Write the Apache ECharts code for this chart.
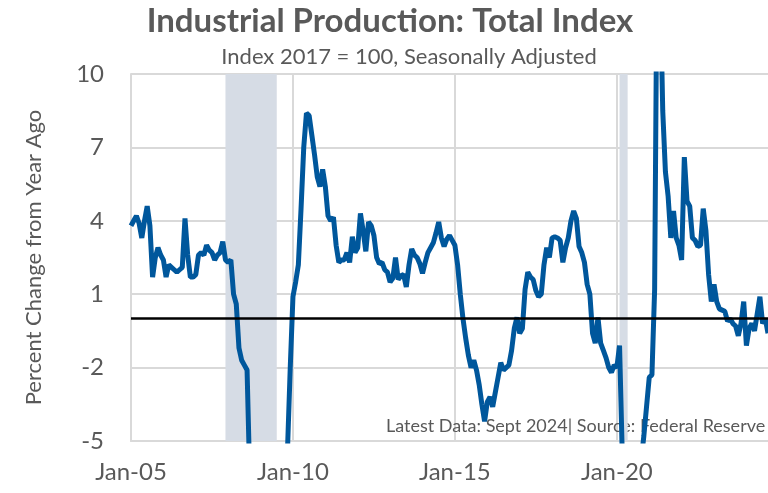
<!DOCTYPE html>
<html>
<head>
<meta charset="utf-8">
<script src="https://cdn.jsdelivr.net/npm/echarts@6/dist/echarts.min.js"></script>
<style>
  html, body { margin: 0; padding: 0; background: #fff; }
  #chart { width: 768px; height: 493px; }
</style>
</head>
<body>
<div id="chart"></div>
<script>
// 月度数据：Jan-2005 ~ Sep-2024，同比变化 %
const startYear = 2005;
const monthNames = ["Jan", "Feb", "Mar", "Apr", "May", "Jun", "Jul", "Aug", "Sep", "Oct", "Nov", "Dec"];

const yoyChange = [
  // 2005
  3.8, 4.0, 4.2, 3.9, 3.3, 4.0, 4.6, 3.8, 1.7, 2.5, 2.9, 2.6,
  // 2006
  2.4, 1.7, 2.2, 2.1, 2.0, 1.9, 2.0, 2.1, 4.1, 2.6, 1.7, 1.7,
  // 2007
  1.8, 2.6, 2.7, 2.6, 3.0, 2.8, 2.7, 2.4, 2.6, 2.7, 3.15, 2.4,
  // 2008
  2.3, 2.4, 1.0, 0.6, -1.2, -1.7, -1.9, -2.1, -6.5, -5.8, -7.5, -9.5,
  // 2009
  -11.5, -12.5, -13.5, -14.5, -15.0, -15.5, -13.5, -12.5, -10.5, -9.0, -5.3, -2.0,
  // 2010
  0.9, 1.5, 2.2, 4.5, 7.0, 8.4, 8.3, 7.5, 6.7, 5.8, 5.4, 6.1,
  // 2011
  5.4, 4.2, 4.0, 4.15, 3.0, 2.3, 2.4, 2.4, 2.7, 2.3, 3.35, 2.7,
  // 2012
  2.9, 4.3, 3.6, 2.75, 3.95, 3.8, 3.4, 2.5, 2.25, 2.3, 2.0, 1.9,
  // 2013
  1.5, 1.65, 2.5, 1.6, 1.75, 1.8, 1.3, 2.2, 2.85, 2.6, 2.5, 2.25,
  // 2014
  1.85, 2.3, 2.7, 2.9, 3.1, 3.5, 3.95, 3.3, 2.95, 3.25, 3.4, 3.2,
  // 2015
  3.0, 2.2, 1.0, 0.0, -0.8, -1.5, -2.0, -1.7, -2.1, -2.7, -3.5, -4.2,
  // 2016
  -3.4, -3.2, -3.6, -3.0, -2.4, -1.8, -2.1, -2.0, -1.9, -1.3, -0.4, 0.05,
  // 2017
  -0.6, -0.4, 1.2, 1.9, 1.7, 1.6, 1.15, 0.9, 1.0, 2.2, 2.9, 2.5,
  // 2018
  3.3, 3.35, 3.3, 3.2, 2.3, 2.9, 3.3, 4.0, 4.4, 4.1, 2.95, 2.7,
  // 2019
  2.3, 1.4, 1.0, -0.6, -1.0, 0.05, -1.0, -1.3, -1.6, -2.0, -2.2, -1.9,
  // 2020
  -2.0, -1.1, -5.5, -16.5, -15.3, -10.8, -7.5, -7.0, -6.8, -5.8, -4.8, -3.6,
  // 2021
  -2.4, -2.3, 1.2, 16.5, 14.0, 8.5, 6.0, 5.0, 3.3, 4.4, 3.3, 3.0,
  // 2022
  2.4, 6.6, 4.8, 4.6, 3.3, 3.2, 2.95, 3.0, 4.5, 3.6, 1.8, 0.7,
  // 2023
  1.4, 0.7, 0.4, 0.35, 0.3, -0.1, 0.0, -0.2, -0.3, -0.7, -0.2, 0.7,
  // 2024
  -1.1, -0.4, -0.2, -0.5, 0.2, 0.9, -0.2, 0.0, -0.6
];

// 衰退期阴影（起止月份）
const recessions = [
  ["Dec-07", "Jul-09"],
  ["Feb-20", "May-20"]
];

const yTicks = { min: -5, max: 10, interval: 3 };

// 月份标签 Jan-05 ...
const categories = yoyChange.map((v, i) => {
  const y = startYear + Math.floor(i / 12);
  return monthNames[i % 12] + "-" + String(y).slice(2);
});

const chart = echarts.init(document.getElementById("chart"));
const font = "Lato, 'Open Sans', sans-serif";
const gray = "#595959";

const option = {
  animation: false,
  title: [
    {
      text: "Industrial Production: Total Index",
      left: 385, top: 0, textAlign: "center",
      textStyle: { fontFamily: font, fontSize: 33, fontWeight: "bold", color: gray }
    },
    {
      text: "Index 2017 = 100, Seasonally Adjusted",
      left: 404, top: 41, textAlign: "center",
      textStyle: { fontFamily: font, fontSize: 22, fontWeight: "normal", color: gray }
    }
  ],
  grid: { left: 131, top: 74, bottom: 52, right: -3 },
  xAxis: {
    type: "category",
    data: categories,
    boundaryGap: false,
    axisLine: { onZero: false, lineStyle: { color: "#d9d9d9", width: 2 } },
    axisTick: { show: false },
    axisLabel: {
      interval: (idx) => idx % 60 === 0,
      color: gray, fontFamily: font, fontSize: 24, margin: 19
    },
    splitLine: {
      show: true,
      interval: (idx) => idx % 60 === 0,
      lineStyle: { color: "#d9d9d9", width: 2 }
    }
  },
  yAxis: {
    type: "value",
    min: yTicks.min, max: yTicks.max, interval: yTicks.interval,
    name: "Percent Change from Year Ago",
    nameLocation: "middle",
    nameGap: 86,
    nameTextStyle: { color: gray, fontFamily: font, fontSize: 22 },
    axisLine: { show: true, lineStyle: { color: "#d9d9d9", width: 2 } },
    axisTick: { show: false },
    axisLabel: { color: gray, fontFamily: font, fontSize: 24, margin: 27 },
    splitLine: { lineStyle: { color: "#d9d9d9", width: 2 } }
  },
  graphic: [
    {
      type: "text", left: 386, top: 417, z: 1,
      style: {
        text: "Latest Data: Sept 2024| Source: Federal Reserve",
        fill: gray, font: "18px " + font
      }
    }
  ],
  series: [
    {
      type: "line",
      data: yoyChange,
      showSymbol: false,
      clip: true,
      z: 3,
      lineStyle: { color: "#00579c", width: 5 },
      itemStyle: { color: "#00579c" },
      markArea: {
        silent: true,
        itemStyle: { color: "#d6dce5" },
        data: recessions.map(r => [{ xAxis: r[0] }, { xAxis: r[1] }])
      },
      markLine: {
        silent: true,
        symbol: "none",
        label: { show: false },
        lineStyle: { color: "#000", width: 2.5, type: "solid" },
        data: [{ yAxis: 0 }]
      }
    }
  ]
};

chart.setOption(option);
</script>
</body>
</html>
